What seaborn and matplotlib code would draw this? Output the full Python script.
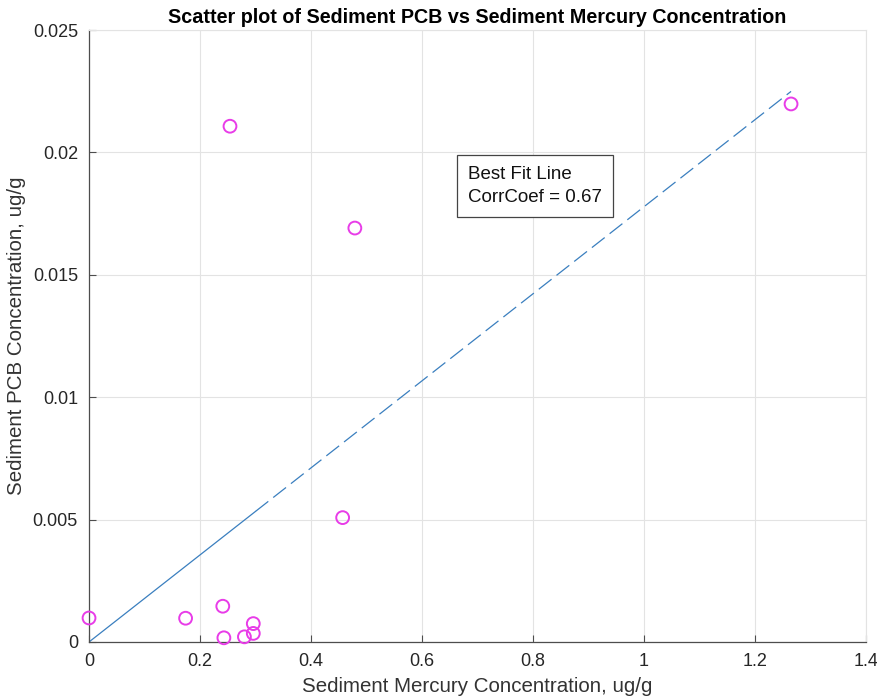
import numpy as np
import pandas as pd
import seaborn as sns
import matplotlib
matplotlib.use("Agg")
import matplotlib.pyplot as plt

# Data
mercury = [0.0, 0.174, 0.241, 0.243, 0.280, 0.296, 0.296, 0.457, 0.479, 0.254, 1.265]
pcb = [0.00098, 0.00097, 0.00146, 0.00017, 0.00021, 0.00035, 0.00075, 0.00508, 0.01691, 0.02107, 0.02198]
xticks = [0, 0.2, 0.4, 0.6, 0.8, 1.0, 1.2, 1.4]
xticklabels = ["0", "0.2", "0.4", "0.6", "0.8", "1", "1.2", "1.4"]
yticks = [0, 0.005, 0.01, 0.015, 0.02, 0.025]
yticklabels = ["0", "0.005", "0.01", "0.015", "0.02", "0.025"]
corr_text = "Best Fit Line\nCorrCoef = 0.67"

df = pd.DataFrame({"hg": mercury, "pcb": pcb})
x = np.array(mercury)
y = np.array(pcb)
slope = np.sum(x * y) / np.sum(x * x)
xmax = x.max()
xbreak = 0.3
fit_solid = pd.DataFrame({"hg": [0.0, xbreak], "pcb": [0.0, slope * xbreak]})
fit_dash = pd.DataFrame({"hg": [xbreak, xmax], "pcb": [slope * xbreak, slope * xmax]})

sns.set_theme(style="white")
plt.rcParams["font.family"] = ["Liberation Sans", "DejaVu Sans"]

fig = plt.figure(figsize=(8.78, 7.0), dpi=100)
ax = fig.add_axes([0.1014, 0.0829, 0.8849, 0.8742])

sns.lineplot(data=fit_solid, x="hg", y="pcb", ax=ax, color="#3a7fbf", lw=0.9)
sns.lineplot(data=fit_dash, x="hg", y="pcb", ax=ax, color="#3a7fbf", lw=0.9,
             linestyle=(0, (13, 5)))
sns.scatterplot(data=df, x="hg", y="pcb", ax=ax, marker="o", s=85,
                facecolor="none", edgecolor="#e83ce8", linewidth=1.4, zorder=3,
                clip_on=False)

ax.set_xlim(0, 1.4)
ax.set_ylim(0, 0.025)
ax.set_xticks(xticks)
ax.set_xticklabels(xticklabels)
ax.set_yticks(yticks)
ax.set_yticklabels(yticklabels)
ax.grid(True, color="#e3e3e3", lw=0.8)
ax.set_axisbelow(True)
for s in ["top", "right"]:
    ax.spines[s].set_color("#e3e3e3")
    ax.spines[s].set_linewidth(0.8)
for s in ["left", "bottom"]:
    ax.spines[s].set_color("#4d4d4d")
    ax.spines[s].set_linewidth(0.9)
ax.tick_params(direction="in", length=5, width=0.8, color="#4d4d4d",
               labelsize=13, labelcolor="#262626", pad=8,
               bottom=True, left=True)

ax.set_xlabel("Sediment Mercury Concentration, ug/g", fontsize=14.8, color="#333333", labelpad=5)
ax.set_ylabel("Sediment PCB Concentration, ug/g", fontsize=14.8, color="#333333", labelpad=5)
ax.set_title("Scatter plot of Sediment PCB vs Sediment Mercury Concentration",
             fontsize=14.2, fontweight="bold", color="black", pad=5)

ax.text(0.488, 0.745, corr_text, transform=ax.transAxes, fontsize=13.5,
        va="center", ha="left", linespacing=1.45, color="#111111",
        bbox=dict(boxstyle="square,pad=0.6", facecolor="white",
                  edgecolor="#444444", lw=0.9))

fig.savefig("out.png", dpi=100)
